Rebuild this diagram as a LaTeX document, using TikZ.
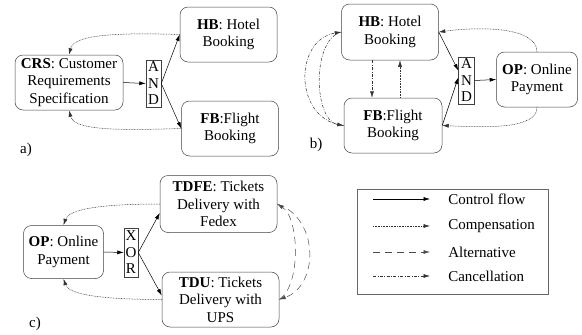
\documentclass[tikz,border=0pt]{standalone}
\usepackage{fontspec}
\setmainfont{Liberation Serif}
\usetikzlibrary{arrows.meta}
\tikzset{txt/.style={font=\rmfamily\fontsize{15}{17.5}\selectfont}}
\tikzset{svc/.style={txt, draw=black!75, rounded corners=8pt, align=center, inner sep=0pt}}
\tikzset{gate/.style={font=\rmfamily\fontsize{15}{16.5}\selectfont, draw=black!75, align=center, inner sep=0pt, minimum width=15pt, minimum height=47pt}}
\tikzset{ctrl/.style={->}}
\tikzset{comp/.style={->, black!80, dash pattern=on 0.8pt off 0.8pt}}
\tikzset{alt/.style={->, black!70, dash pattern=on 7pt off 5pt}}
\tikzset{canc/.style={->, black!80, dash pattern=on 3pt off 1.5pt on 0.8pt off 1.5pt}}

\begin{document}
\begin{tikzpicture}[x=1pt, y=-1pt, line width=0.5pt, >={Latex[length=6.5pt,width=4pt]}]
        \useasboundingbox (0,0) rectangle (582,335);
        % a)
        \node[svc, minimum width=108pt, minimum height=55pt] (crs) at (69,82.5) {\textbf{CRS}: Customer\\Requirements\\Specification};
        \node[gate] (and1) at (153.5,83.5) {A\\N\\D};
        \node[svc, minimum width=97pt, minimum height=55pt] (hb1) at (228.5,34.5) {\textbf{HB}: Hotel\\Booking};
        \node[svc, minimum width=97pt, minimum height=55pt] (fb1) at (230,128.5) {\textbf{FB}:Flight\\Booking};
        \node[txt] (lbla) at (26,150) {a)};
        \draw[ctrl] (crs.east) -- (and1.west);
        \draw[ctrl] (and1.east) -- (hb1.west);
        \draw[ctrl] (and1.east) -- (fb1.west);
        \draw[comp] (hb1.west) .. controls +(-65,-2) and +(5,-20) .. (crs.north);
        \draw[comp] (fb1.west) .. controls +(-65,2) and +(5,20) .. (crs.south);
        % b)
        \node[svc, minimum width=97pt, minimum height=56pt] (hb2) at (390,32) {\textbf{HB}: Hotel\\Booking};
        \node[svc, minimum width=98pt, minimum height=55pt] (fb2) at (393,125.5) {\textbf{FB}:Flight\\Booking};
        \node[gate, minimum width=16pt] (and2) at (466.5,80.5) {A\\N\\D};
        \node[svc, minimum width=81pt, minimum height=55pt] (op2) at (537,79.5) {\textbf{OP}: Online\\Payment};
        \node[txt] (lblb) at (316,145) {b)};
        \draw[ctrl] (hb2.east) -- ([yshift=10pt]and2.west);
        \draw[ctrl] (fb2.east) -- ([yshift=3pt]and2.west);
        \draw[ctrl] (and2.east) -- (op2.west);
        \draw[canc] ([xshift=-18pt]hb2.south) -- ([xshift=-18pt]hb2.south |- fb2.north);
        \draw[comp] ([xshift=10pt]hb2.south |- fb2.north) -- ([xshift=10pt]hb2.south);
        \draw[comp] (op2.north) .. controls +(0,-24) and +(45,-6) .. (hb2.east);
        \draw[comp] (op2.south) .. controls +(0,22) and +(45,2) .. (fb2.east);
        \draw[canc] (fb2.west) .. controls +(-50,-5) and +(-48,8) .. (hb2.west);
        \draw[canc] (hb2.west) .. controls +(-30,8) and +(-30,-5) .. (fb2.west);
        % c)
        \node[svc, minimum width=80pt, minimum height=53pt] (op3) at (63.5,252) {\textbf{OP}: Online\\Payment};
        \node[gate, minimum width=14pt, minimum height=49pt] (xor) at (131,252.5) {X\\O\\R};
        \node[svc, minimum width=117pt, minimum height=57pt] (tdfe) at (218.5,204) {\textbf{TDFE}: Tickets\\Delivery with\\Fedex};
        \node[svc, minimum width=117pt, minimum height=55pt] (tdu) at (220.5,299.5) {\textbf{TDU}: Tickets\\Delivery with\\UPS};
        \node[txt] (lblc) at (35,324) {c)};
        \draw[ctrl] (op3.east) -- (xor.west);
        \draw[ctrl] (xor.east) -- ([yshift=-9pt]tdfe.west);
        \draw[ctrl] (xor.east) -- ([yshift=4pt]tdu.west);
        \draw[comp] (tdfe.west) .. controls +(-65,0) and +(5,-15) .. (op3.north);
        \draw[comp] (tdu.west) .. controls +(-65,0) and +(5,15) .. (op3.south);
        \draw[alt] (tdu.east) .. controls +(22,-14) and +(22,14) .. (tdfe.east);
        \draw[alt] (tdfe.east) .. controls +(42,14) and +(40,-14) .. (tdu.east);
        % legend
        \draw[black!60] (357,189) rectangle (548,294);
        \foreach \y/\sty/\lbl [count=\i] in {199/ctrl/Control flow, 226/comp/Compensation, 252/alt/Alternative, 276/canc/Cancellation} {
          \coordinate (ls\i) at (373,\y);
          \coordinate (le\i) at (430,\y);
          \draw[\sty] (ls\i) -- (le\i);
          \node[txt, anchor=west, inner sep=0pt] (lt\i) at (448,\y) {\lbl};
        }
      \end{tikzpicture}
\end{document}
